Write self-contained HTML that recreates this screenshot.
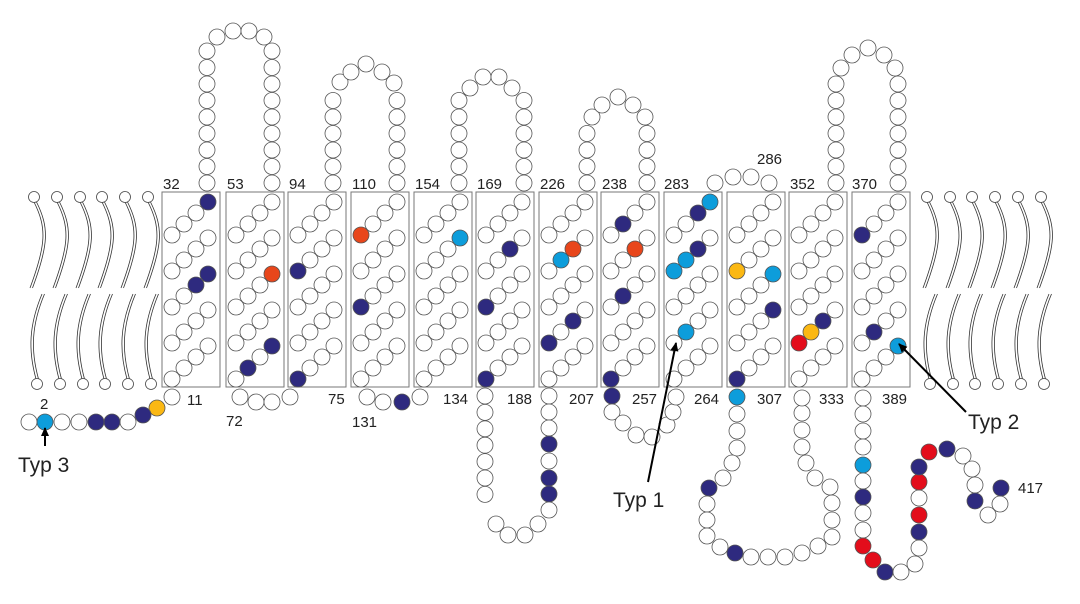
<!DOCTYPE html>
<html><head><meta charset="utf-8">
<style>
html,body{margin:0;padding:0;background:#fff;}
svg{display:block;}
text{font-family:"Liberation Sans",sans-serif;font-size:15px;fill:#222;}
</style></head>
<body>
<svg id="s" width="1080" height="604" viewBox="0 0 1080 604" xmlns="http://www.w3.org/2000/svg">
<defs>
<marker id="ah" markerWidth="10" markerHeight="10" refX="8" refY="5" orient="auto" markerUnits="userSpaceOnUse">
<path d="M0,1 L9,5 L0,9 Z" fill="#000"/>
</marker>
</defs>
<g id="lip" fill="none" stroke="#333" stroke-width="0.8"></g>
<g id="boxes" fill="none" stroke="#777" stroke-width="1"></g>
<g id="circ" stroke="#555" stroke-width="0.8"></g>
<g>
<text x="163" y="189">32</text>
<text x="227" y="189">53</text>
<text x="289" y="189">94</text>
<text x="352" y="189">110</text>
<text x="415" y="189">154</text>
<text x="477" y="189">169</text>
<text x="540" y="189">226</text>
<text x="602" y="189">238</text>
<text x="664" y="189">283</text>
<text x="757" y="164">286</text>
<text x="790" y="189">352</text>
<text x="852" y="189">370</text>
<text x="187" y="405">11</text>
<text x="226" y="426">72</text>
<text x="328" y="404">75</text>
<text x="352" y="427">131</text>
<text x="443" y="404">134</text>
<text x="507" y="404">188</text>
<text x="569" y="404">207</text>
<text x="632" y="404">257</text>
<text x="694" y="404">264</text>
<text x="757" y="404">307</text>
<text x="819" y="404">333</text>
<text x="882" y="404">389</text>
<text x="40" y="409">2</text>
<text x="1018" y="493">417</text>
<text x="18" y="472" style="font-size:21px">Typ 3</text>
<text x="613" y="507" style="font-size:21px">Typ 1</text>
<text x="968" y="429" style="font-size:21px">Typ 2</text>
</g>
<g stroke="#000" stroke-width="2" fill="none">
<line x1="45" y1="446" x2="45" y2="428" marker-end="url(#ah)"/>
<line x1="648" y1="482" x2="676" y2="343" marker-end="url(#ah)"/>
<line x1="966" y1="412" x2="899" y2="344" marker-end="url(#ah)"/>
</g>
</svg>
<script>
var NS="http://www.w3.org/2000/svg";
var D="#2e2a7f",C="#0d9ddb",O="#e8461b",Y="#fbb813",R="#e30d1b",W="#fff";
var cg=document.getElementById("circ"),bg=document.getElementById("boxes"),lg=document.getElementById("lip");
function c(x,y,f,r){var e=document.createElementNS(NS,"circle");e.setAttribute("cx",x);e.setAttribute("cy",y);e.setAttribute("r",r||8);e.setAttribute("fill",f||W);cg.appendChild(e);}
// boxes
var bx=[162,226,288,351,414,476,539,601,664,727,789,852];
var cols={0:[[0,3,D],[2,3,D],[2,2,D]],1:[[2,3,O],[4,3,D],[4,1,D]],2:[[1,0,D],[4,0,D]],3:[[0,0,O],[2,0,D]],4:[[1,3,C]],
5:[[1,2,D],[2,0,D],[4,0,D]],6:[[1,2,O],[1,1,C],[3,2,D],[3,0,D]],7:[[0,1,D],[1,2,O],[2,1,D],[4,0,D]],
8:[[0,3,C],[0,2,D],[1,2,D],[1,1,C],[1,0,C],[3,1,C]],9:[[1,0,Y],[2,3,C],[3,3,D],[4,0,D]],10:[[3,2,D],[3,1,Y],[3,0,R]],11:[[0,0,D],[3,1,D],[4,3,C]]};
bx.forEach(function(x0,k){
 var r=document.createElementNS(NS,"rect");r.setAttribute("x",x0);r.setAttribute("y",192);r.setAttribute("width",58);r.setAttribute("height",195);bg.appendChild(r);
 for(var i=0;i<5;i++)for(var j=0;j<4;j++){
  var f=W;(cols[k]||[]).forEach(function(q){if(q[0]==i&&q[1]==j)f=q[2];});
  c(x0+10+12*j,202+36*i+11*(3-j),f);
 }
});
// top loops
function leg(x,ytop){for(var y=183;y>=ytop-1;y-=16.5)c(x,y);}
function tloop(xl,xr,ytop,arc){leg(xl,ytop);leg(xr,ytop);arc.forEach(function(p){c(p[0],p[1]);});}
tloop(207,272,52,[[217,37],[233,31],[249,31],[264,37]]);
tloop(333,397,100,[[333,83],[340,82],[351,72],[366,64],[382,72],[394,83]].slice(1));
tloop(459,524,100,[[470,88],[483,77],[499,77],[512,88]]);
tloop(587,647,133,[[592,117],[602,105],[618,97],[633,105],[645,117]]);
tloop(836,898,84,[[841,68],[852,55],[868,48],[884,55],[895,68]]);
[[715,183],[733,177],[751,177],[769,183]].forEach(function(p){c(p[0],p[1]);});
// bottom
var pts=[[172,397],[157,408,Y],[143,415,D],[128,422],[112,422,D],[96,422,D],[79,422],[62,422],[45,422,C],[29,422],
[240,397],[256,402],[272,402],[290,397],
[367,397],[383,402],[402,402,D],[420,397],
[612,396,D],[612,412],[623,423],[636,435],[652,437],[667,425],[673,412],[676,397]];
pts.forEach(function(p){c(p[0],p[1],p[2]);});
// U loop 188-207
for(var y=396;y<=510;y+=16.4){c(485,y);}
var rl=[396,412,428,444,461,478,494,510];var rd=[444,478,494];
rl.forEach(function(y){c(549,y,rd.indexOf(y)>=0?D:W);});
[[496,524],[508,535],[525,535],[538,524]].forEach(function(p){c(p[0],p[1]);});
// 307-333 loop
[[737,397,C],[737,414],[737,431],[737,448],[732,463],[723,478],[709,488,D],[707,504],[707,520],[707,536],[720,547],[735,553,D],[751,557],[768,557],[785,557],[802,553],[818,546],[832,537],[832,520],[832,503],[830,487],[815,478],[806,463],[802,447],[802,430],[802,413],[802,398]].forEach(function(p){c(p[0],p[1],p[2]);});
// C-term
[[863,398],[863,414],[863,431],[863,447],[863,465,C],[863,481],[863,497,D],[863,513],[863,530],[863,546,R],[873,560,R],[885,572,D],[901,572],[915,564],[919,548],[919,532,D],[919,515,R],[919,498],[919,482,R],[919,467,D],[929,452,R],[947,449,D],[963,456],[972,469],[975,485],[975,501,D],[988,515],[1000,504],[1001,488,D]].forEach(function(p){c(p[0],p[1],p[2]);});
// lipids
function p(d){var e=document.createElementNS(NS,"path");e.setAttribute("d",d);lg.appendChild(e);}
function lipid(x,s){
 for(var o=0;o<=2.5;o+=2.5){
  p("M"+(x+o)+",202 C"+(x+o+13*s)+",228 "+(x+o+12*s)+",245 "+(x+o-4*s)+",288");
  p("M"+(x+o+8*s)+",294 C"+(x+o-5*s)+",325 "+(x+o-6*s)+",350 "+(x+o+2*s)+",379");
 }
 var h=function(cx,cy){var e=document.createElementNS(NS,"circle");e.setAttribute("cx",cx);e.setAttribute("cy",cy);e.setAttribute("r",5.5);e.setAttribute("fill","#fff");e.setAttribute("stroke","#444");lg.appendChild(e);};
 h(x,197);h(x+2*s+ (s>0?1:0),384);
}
[34,57,80,102,125,148].forEach(function(x){lipid(x,1);});
[927,950,972,995,1018,1041].forEach(function(x){lipid(x,1);});
</script>
</body></html>
